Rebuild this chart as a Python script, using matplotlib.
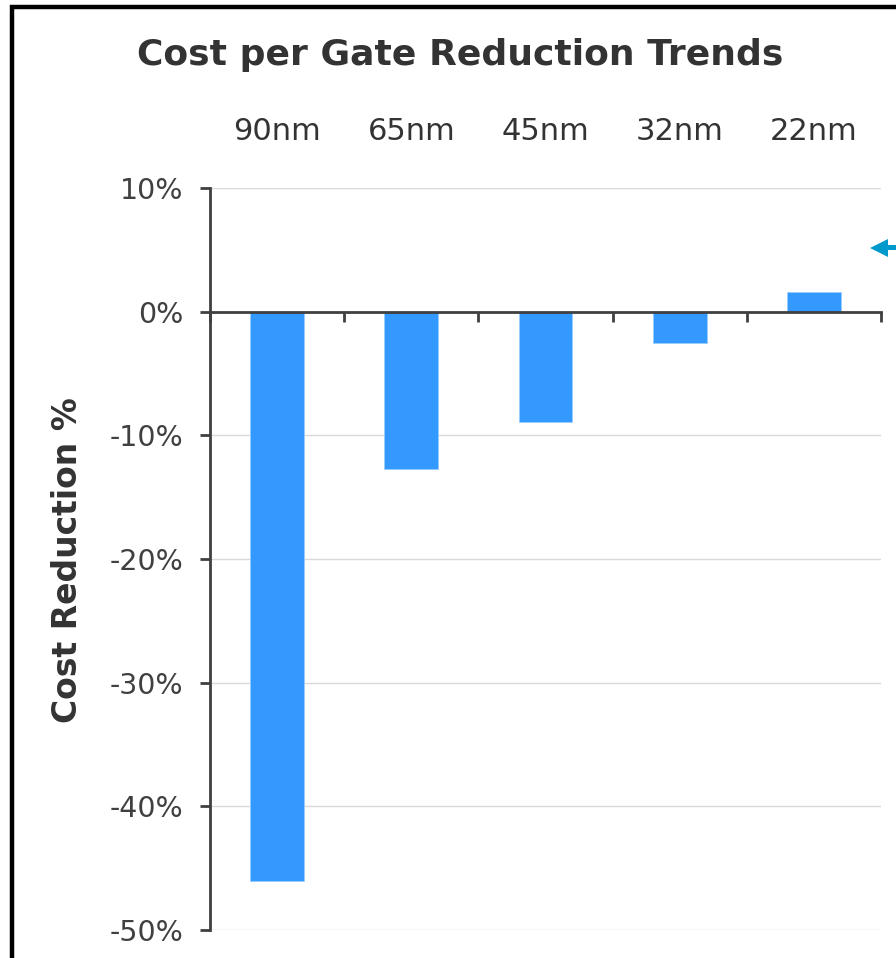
import matplotlib
matplotlib.use("Agg")
import matplotlib.pyplot as plt
from matplotlib.patches import Rectangle, Polygon
from matplotlib.transforms import blended_transform_factory

# Data
nodes = ["90nm", "65nm", "45nm", "32nm", "22nm"]
cost_reduction = [-46.0, -12.7, -8.9, -2.5, 1.6]
y_ticks = [10, 0, -10, -20, -30, -40, -50]
y_tick_labels = ["10%", "0%", "-10%", "-20%", "-30%", "-40%", "-50%"]

W, H = 896, 958
fig = plt.figure(figsize=(W / 100, H / 100), dpi=100)
fig.patch.set_facecolor("white")

ax = fig.add_axes([210 / W, 1 - 930 / H, (881 - 210) / W, (930 - 188) / H])

x = list(range(len(nodes)))
ax.bar(x, cost_reduction, width=0.4, color="#3399FF", edgecolor="#99CCFF",
       linewidth=0.6, zorder=3)

ax.set_xlim(-0.5, len(nodes) - 0.5)
ax.set_ylim(-50, 10)
ax.set_yticks(y_ticks)
ax.set_yticklabels(y_tick_labels)

ax.grid(axis="y", color="#D9D9D9", linewidth=1.0, zorder=0)
ax.set_axisbelow(True)

axis_col = "#404040"
for s in ["top", "right"]:
    ax.spines[s].set_visible(False)
ax.spines["left"].set_color(axis_col)
ax.spines["left"].set_linewidth(2.0)
ax.spines["bottom"].set_position(("data", 0))
ax.spines["bottom"].set_color(axis_col)
ax.spines["bottom"].set_linewidth(2.0)
ax.spines["bottom"].set_zorder(4)

# Category boundary ticks on the zero line, labels above the plot
ax.set_xticks([i - 0.5 for i in range(len(nodes) + 1)])
ax.set_xticklabels([])
ax.tick_params(axis="x", direction="out", length=7, width=2.0, color=axis_col)
ax.tick_params(axis="y", direction="out", length=7, width=2.0, color=axis_col,
               labelsize=20.5, labelcolor="#404040", pad=12)

trans = blended_transform_factory(ax.transData, fig.transFigure)
for i, name in enumerate(nodes):
    fig.text(i, 1 - 131 / H, name, transform=trans, ha="center", va="center",
             fontsize=22, color="#333333")

fig.text(460 / W, 1 - 55 / H, "Cost per Gate Reduction Trends", ha="center",
         va="center", fontsize=26, fontweight="bold", color="#333333")

fig.text(68 / W, 1 - 560 / H, "Cost Reduction %", ha="center", va="center",
         rotation=90, fontsize=23.8, fontweight="bold", color="#333333")

# Frame around the chart
fig.add_artist(Rectangle((11.5 / W, -0.1), 1.2, 1 - 7 / H + 0.1,
                         transform=fig.transFigure, fill=False,
                         edgecolor="black", linewidth=3.2, zorder=10))

# Pointer arrow on the right (pixel outline converted to figure fraction)
arrow_px = [(870, 248), (888, 239), (888, 245), (900, 245), (900, 250),
            (888, 250), (888, 257)]
fig.add_artist(Polygon([(px / W, 1 - py / H) for px, py in arrow_px],
                       closed=True, transform=fig.transFigure,
                       facecolor="#0099CC", edgecolor="none", zorder=10))

fig.savefig("out.png", dpi=100)
